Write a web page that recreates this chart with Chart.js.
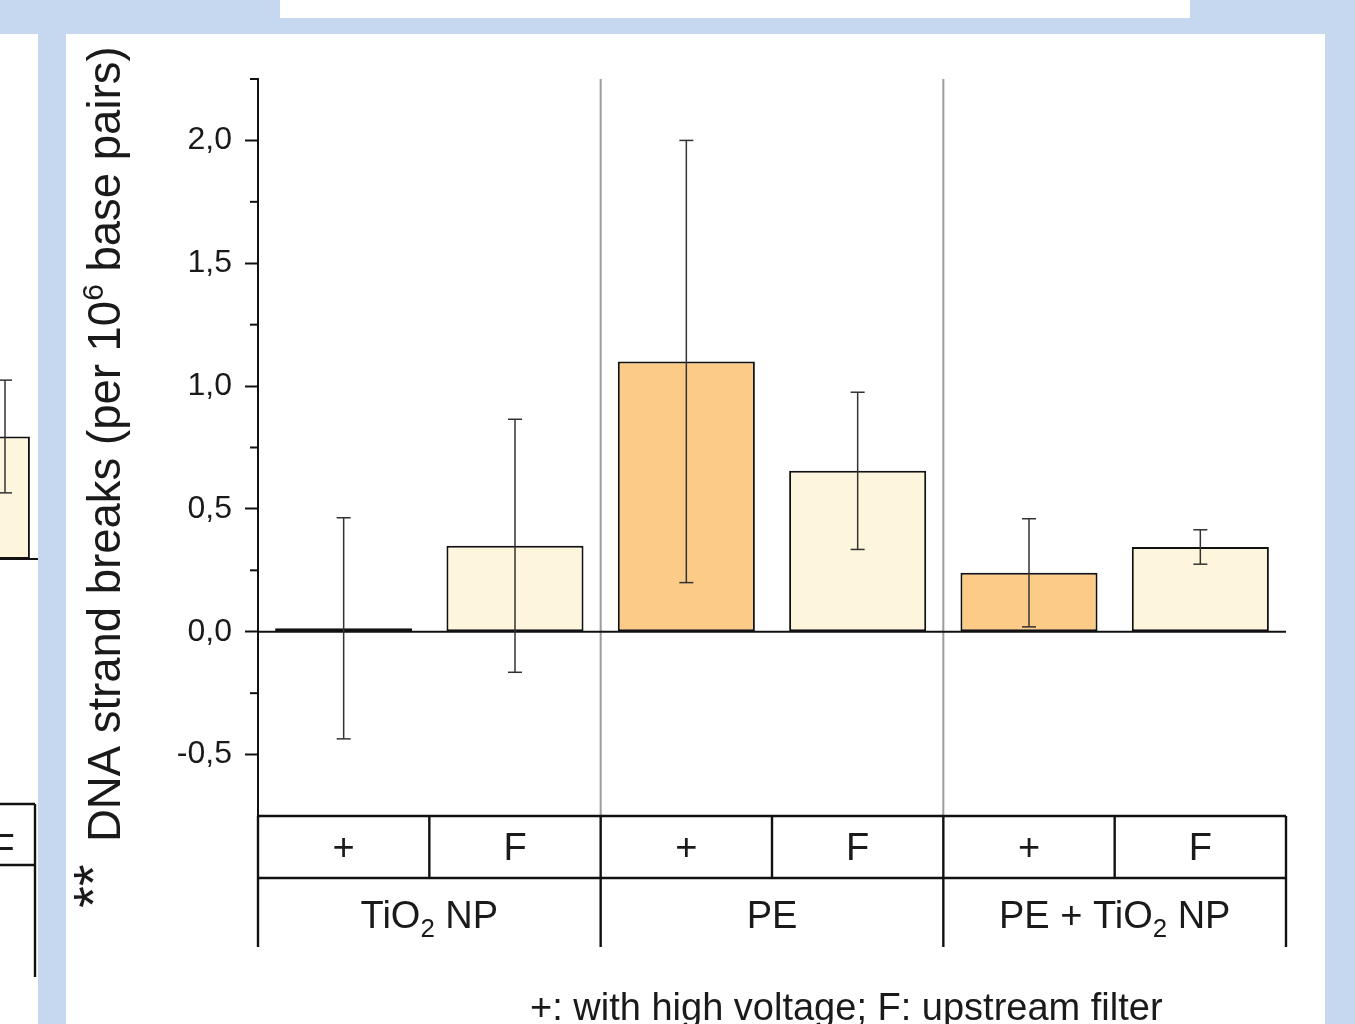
<!DOCTYPE html>
<html>
<head>
<meta charset="utf-8">
<script src="https://cdn.jsdelivr.net/npm/chart.js@4.4.0/dist/chart.umd.min.js"></script>
<style>
html, body { margin: 0; padding: 0; width: 1355px; height: 1024px; overflow: hidden; background: #c6d8f0; }
.panel { position: absolute; background: #fff; }
</style>
</head>
<body>
<div class="panel" style="left:280px;top:0;width:910px;height:18px"></div>
<div class="panel" style="left:66px;top:34px;width:1259px;height:990px"></div>
<div class="panel" style="left:0;top:34px;width:38px;height:990px;overflow:hidden">
  <canvas id="fragChart" width="100" height="1024" style="position:absolute;left:-60px;top:-34px"></canvas>
</div>
<canvas id="mainChart" width="1355" height="1024" style="position:absolute;left:0;top:0"></canvas>
<script>
// -- data
var conditions = ['+', 'F', '+', 'F', '+', 'F'];
var groups = ['TiO_2 NP', 'PE', 'PE + TiO_2 NP'];   // '_' = next char subscript
var strandBreaks = [0.014, 0.35, 1.10, 0.655, 0.24, 0.345];
var strandErr = [0.45, 0.515, 0.90, 0.32, 0.22, 0.07];
var barColors = ['#fdcb88', '#fef6dc', '#fdcb88', '#fef6dc', '#fdcb88', '#fef6dc'];
var yMajor = [-0.5, 0, 0.5, 1.0, 1.5, 2.0];
var yMinor = [-0.25, 0.25, 0.75, 1.25, 1.75, 2.25];
var axisTitle = ['DNA strand breaks (per 10', '6', ' base pairs)'];
var footnote = '+: with high voltage; F: upstream filter';

// -- neighbouring panel, only its right edge is visible
var fragConditions = ['F'];
var fragValues = [0.50];
var fragErr = [0.23];

var FONT = '"Liberation Sans", Arial, sans-serif';
var INK = '#1a1a1a';
Chart.defaults.font.family = FONT;

function isMajor(v) {
  return yMajor.some(function (t) { return Math.abs(t - v) < 1e-6; });
}

function line(ctx, x1, y1, x2, y2) {
  ctx.beginPath(); ctx.moveTo(x1, y1); ctx.lineTo(x2, y2); ctx.stroke();
}

function richText(ctx, text, cx, base, size) {
  var parts = [];
  text.split('_').forEach(function (p, i) {
    if (i === 0) { parts.push({ t: p, sub: false }); }
    else { parts.push({ t: p[0], sub: true }); parts.push({ t: p.slice(1), sub: false }); }
  });
  var w = 0;
  parts.forEach(function (p) {
    ctx.font = (p.sub ? size * 0.68 : size) + 'px ' + FONT;
    p.w = ctx.measureText(p.t).width; w += p.w;
  });
  var x = cx - w / 2;
  ctx.textAlign = 'left'; ctx.textBaseline = 'alphabetic';
  parts.forEach(function (p) {
    ctx.font = (p.sub ? size * 0.68 : size) + 'px ' + FONT;
    ctx.fillText(p.t, x, base + (p.sub ? size * 0.24 : 0));
    x += p.w;
  });
}

function errorBars(chart, errs) {
  var ctx = chart.ctx, y = chart.scales.y, meta = chart.getDatasetMeta(0);
  var vals = chart.data.datasets[0].data;
  ctx.strokeStyle = '#333'; ctx.lineWidth = 1.5;
  meta.data.forEach(function (bar, i) {
    var hi = y.getPixelForValue(vals[i] + errs[i]), lo = y.getPixelForValue(vals[i] - errs[i]);
    line(ctx, bar.x, hi, bar.x, lo);
    line(ctx, bar.x - 7, hi, bar.x + 7, hi);
    line(ctx, bar.x - 7, lo, bar.x + 7, lo);
  });
}

var tablePlugin = {
  id: 'table',
  afterDatasetsDraw: function (chart) {
    var ctx = chart.ctx, a = chart.chartArea, x = chart.scales.x, y = chart.scales.y;
    var slot = x.getPixelForValue(1) - x.getPixelForValue(0);
    var edge = function (i) { return x.getPixelForValue(i) - slot / 2; };
    var row1 = a.bottom + 62, row2 = a.bottom + 131;
    ctx.save();
    // grey group separators in the plot
    ctx.strokeStyle = '#9b9b9b'; ctx.lineWidth = 2;
    for (var g = 1; g < groups.length; g++) line(ctx, edge(g * 2), a.top, edge(g * 2), a.bottom);
    // zero line
    ctx.strokeStyle = '#111'; ctx.lineWidth = 2.2;
    var y0 = y.getPixelForValue(0);
    line(ctx, a.left, y0, a.right, y0);
    errorBars(chart, strandErr);
    // minor ticks
    ctx.strokeStyle = '#111'; ctx.lineWidth = 2;
    yMinor.forEach(function (v) { var p = y.getPixelForValue(v); line(ctx, a.left - 8, p, a.left, p); });
    // category table
    ctx.lineWidth = 2.4;
    line(ctx, a.left, a.bottom, a.right, a.bottom);
    line(ctx, a.left, row1, a.right, row1);
    line(ctx, a.left, a.bottom, a.left, row2);
    line(ctx, a.right, a.bottom, a.right, row2);
    for (var i = 1; i < conditions.length; i++) {
      line(ctx, edge(i), a.bottom, edge(i), i % 2 === 0 ? row2 : row1);
    }
    ctx.fillStyle = INK;
    conditions.forEach(function (c, i) { richText(ctx, c, x.getPixelForValue(i), a.bottom + 44, 38); });
    groups.forEach(function (gname, gi) {
      richText(ctx, gname, (edge(gi * 2) + edge(gi * 2 + 2)) / 2, a.bottom + 112, 38);
    });
    // footnote
    ctx.font = '38px ' + FONT; ctx.textAlign = 'left'; ctx.textBaseline = 'alphabetic';
    ctx.fillText(footnote, a.left + 272, a.bottom + 204);
    // axis title, rotated
    ctx.translate(a.left - 138, a.bottom + 26);
    ctx.rotate(-Math.PI / 2);
    ctx.font = '56px ' + FONT;
    ctx.fillText('**', -66, -8);
    var px = 0;
    axisTitle.forEach(function (t, i) {
      var sup = i === 1;
      ctx.font = (sup ? 30 : 45.5) + 'px ' + FONT;
      ctx.fillText(t, px, sup ? -17 : 0);
      px += ctx.measureText(t).width;
    });
    ctx.restore();
  }
};

var fragPlugin = {
  id: 'frag',
  afterDatasetsDraw: function (chart) {
    var ctx = chart.ctx, a = chart.chartArea, y = chart.scales.y;
    var meta = chart.getDatasetMeta(0);
    ctx.save();
    ctx.strokeStyle = '#111'; ctx.lineWidth = 2;
    var y0 = y.getPixelForValue(0);
    line(ctx, 0, y0, chart.width, y0);
    errorBars(chart, fragErr);
    ctx.strokeStyle = '#111'; ctx.lineWidth = 2.4;
    line(ctx, 0, a.bottom, a.right, a.bottom);
    line(ctx, 0, a.bottom + 61, a.right, a.bottom + 61);
    line(ctx, a.right, a.bottom, a.right, a.bottom + 173);
    ctx.fillStyle = INK;
    richText(ctx, fragConditions[0], meta.data[0].x - 2, a.bottom + 57, 38);
    ctx.restore();
  }
};

new Chart(document.getElementById('fragChart'), {
  type: 'bar',
  data: {
    labels: fragConditions,
    datasets: [{
      data: fragValues,
      backgroundColor: '#fef6dc', borderColor: '#111', borderWidth: 2, borderSkipped: false,
      categoryPercentage: 1, barPercentage: 0.83
    }]
  },
  options: {
    responsive: false, animation: false,
    layout: { padding: { left: 35, right: 5, top: 69, bottom: 220 } },
    plugins: { legend: { display: false }, tooltip: { enabled: false } },
    scales: { x: { display: false }, y: { display: false, min: -1, max: 2 } }
  },
  plugins: [fragPlugin]
});

new Chart(document.getElementById('mainChart'), {
  type: 'bar',
  data: {
    labels: conditions,
    datasets: [{
      data: strandBreaks,
      backgroundColor: barColors, borderColor: '#111', borderWidth: 2, borderSkipped: false,
      categoryPercentage: 1, barPercentage: 0.8
    }]
  },
  options: {
    responsive: false, animation: false,
    layout: { padding: { left: 0, top: 79, right: 69, bottom: 208 } },
    plugins: { legend: { display: false }, tooltip: { enabled: false } },
    scales: {
      x: { display: false },
      y: {
        min: -0.75, max: 2.25,
        afterFit: function (s) { s.width = 258; },
        ticks: {
          stepSize: 0.25, autoSkip: false, padding: 13, color: INK, font: { size: 32 },
          callback: function (v) { return isMajor(v) ? v.toFixed(1).replace('.', ',') : ''; }
        },
        grid: {
          drawOnChartArea: false, tickLength: 13, tickWidth: 2,
          tickColor: function (c) { return isMajor(c.tick.value) ? '#111' : 'rgba(0,0,0,0)'; }
        },
        border: { display: true, color: '#111', width: 2 }
      }
    }
  },
  plugins: [tablePlugin]
});
</script>
</body>
</html>
